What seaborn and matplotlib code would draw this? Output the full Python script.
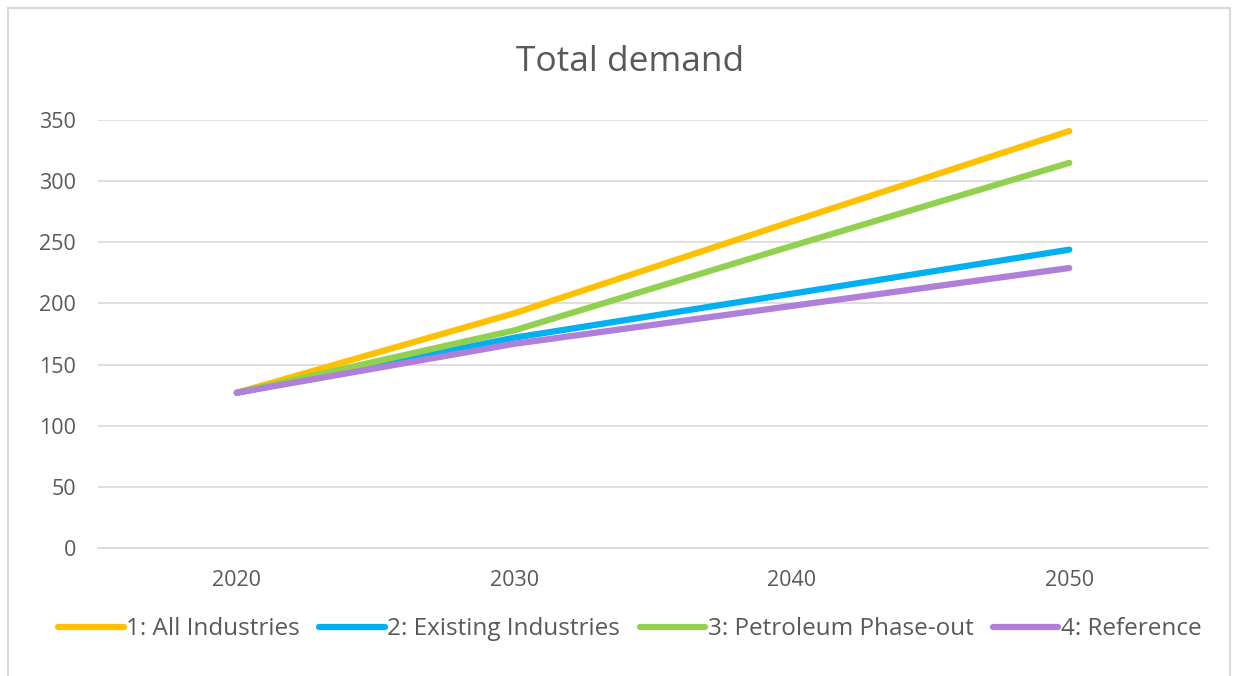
import pandas as pd
import matplotlib
matplotlib.use("Agg")
import matplotlib.pyplot as plt
import seaborn as sns
from matplotlib.patches import Rectangle

years = [2020, 2030, 2040, 2050]
scenarios = ["1: All Industries", "2: Existing Industries", "3: Petroleum Phase-out", "4: Reference"]
all_industries = [127, 192, 267, 341]
existing_industries = [127, 172, 208, 244]
petroleum_phaseout = [127, 178, 247, 315]
reference = [127, 167, 198, 229]
colors = ["#FFC000", "#00B0F0", "#92D050", "#B07FD9"]

series = [all_industries, existing_industries, petroleum_phaseout, reference]
df = pd.DataFrame({
    "Year": years * len(scenarios),
    "Scenario": [s for s in scenarios for _ in years],
    "Demand": [v for vals in series for v in vals],
})

sns.set_style("white")
plt.rcParams["font.family"] = ["Open Sans", "DejaVu Sans"]
text_col = "#595959"

fig = plt.figure(figsize=(12.38, 6.76), dpi=100)
ax = fig.add_axes([0.0792, 0.1893, 0.8966, 0.6331])

sns.lineplot(data=df, x="Year", y="Demand", hue="Scenario", palette=colors,
             linewidth=4.5, ax=ax, solid_capstyle="round", legend=True)

ax.set_xlim(2015, 2055)
ax.set_ylim(0, 350)
ax.set_xticks(years)
ax.set_yticks(range(0, 351, 50))
ax.grid(axis="y", color="#D9D9D9", linewidth=1.2)
ax.set_axisbelow(True)
for side in ["top", "right", "left"]:
    ax.spines[side].set_visible(False)
ax.spines["bottom"].set_color("#D9D9D9")
ax.spines["bottom"].set_linewidth(1.2)
ax.tick_params(axis="both", length=0, labelsize=15.5, colors=text_col)
ax.tick_params(axis="x", pad=16)
ax.tick_params(axis="y", pad=16)
ax.set_xlabel("")
ax.set_ylabel("")

fig.text(0.509, 0.908, "Total demand", ha="center", va="center", fontsize=25.5, color=text_col)

handles, labels = ax.get_legend_handles_labels()
ax.legend(handles, labels, loc="center", bbox_to_anchor=(0.479, -0.19), ncol=4,
          frameon=False, fontsize=17.5, labelcolor=text_col, handlelength=2.7,
          handletextpad=0.1, columnspacing=0.8)

fig.patches.append(Rectangle((8 / 1238, -0.01), 1222 / 1238, 1 - 8 / 676 + 0.01,
                             transform=fig.transFigure, fill=False,
                             edgecolor="#D9D9D9", linewidth=1.5))

fig.savefig("out.png", dpi=100)
